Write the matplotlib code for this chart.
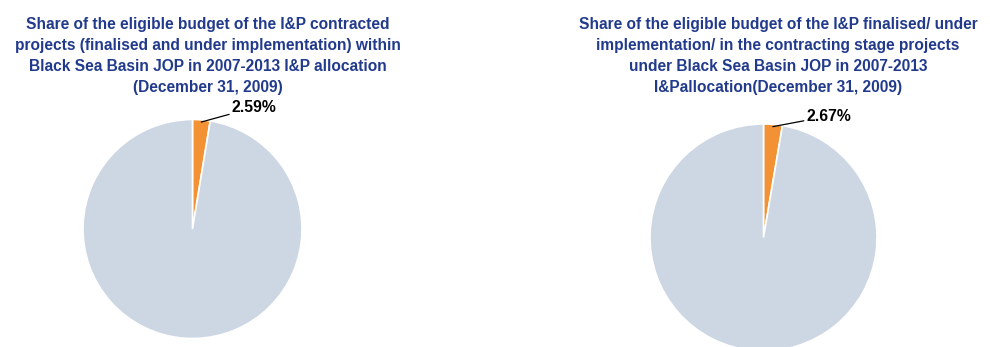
import numpy as np
import matplotlib
matplotlib.use("Agg")
import matplotlib.pyplot as plt

plt.rcParams["font.family"] = ["Liberation Sans", "DejaVu Sans"]

# data
left_shares = [2.59, 97.41]
right_shares = [2.67, 97.33]
left_title = ("Share of the eligible budget of the I&P contracted\n"
              "projects (finalised and under implementation) within\n"
              "Black Sea Basin JOP in 2007-2013 I&P allocation\n"
              "(December 31, 2009)")
right_title = ("Share of the eligible budget of the I&P finalised/ under\n"
               "implementation/ in the contracting stage projects\n"
               "under Black Sea Basin JOP in 2007-2013\n"
               "I&Pallocation(December 31, 2009)")

colors = ["#F39234", "#CDD7E3"]
title_color = "#213A8C"
W, H = 990, 347

fig = plt.figure(figsize=(W / 100, H / 100), dpi=100)


def pie_axes(cx, cy, r):
    # cx, cy, r in pixels, cy from top
    return fig.add_axes([(cx - r) / W, (H - cy - r) / H, 2 * r / W, 2 * r / H])


def draw_pie(ax, shares, text_offset):
    wedges, _ = ax.pie(shares, colors=colors, startangle=90, counterclock=False,
                       radius=1, wedgeprops=dict(edgecolor="white", linewidth=1.2))
    ax.set_xlim(-1, 1)
    ax.set_ylim(-1, 1)
    ax.axis("off")
    w = wedges[0]
    ang = np.deg2rad((w.theta1 + w.theta2) / 2)
    x, y = np.cos(ang) * 0.98, np.sin(ang) * 0.98
    ax.annotate(f"{shares[0]:.2f}%", xy=(x, y), xytext=text_offset,
                ha="left", va="center", fontsize=11.3, fontweight="bold",
                color="black", annotation_clip=False,
                arrowprops=dict(arrowstyle="-", color="black", lw=0.9,
                                shrinkA=0, shrinkB=0))


ax1 = pie_axes(192.5, 229, 109.5)
draw_pie(ax1, left_shares, (0.36, 1.11))

ax2 = pie_axes(763.5, 237.5, 113.5)
draw_pie(ax2, right_shares, (0.38, 1.07))

fig.text(208 / W, 1 - 17 / H, left_title, ha="center", va="top",
         fontsize=11.2, fontweight="bold", color=title_color, linespacing=1.5)
fig.text(778 / W, 1 - 17 / H, right_title, ha="center", va="top",
         fontsize=11.2, fontweight="bold", color=title_color, linespacing=1.5)

fig.savefig("out.png", dpi=100)
